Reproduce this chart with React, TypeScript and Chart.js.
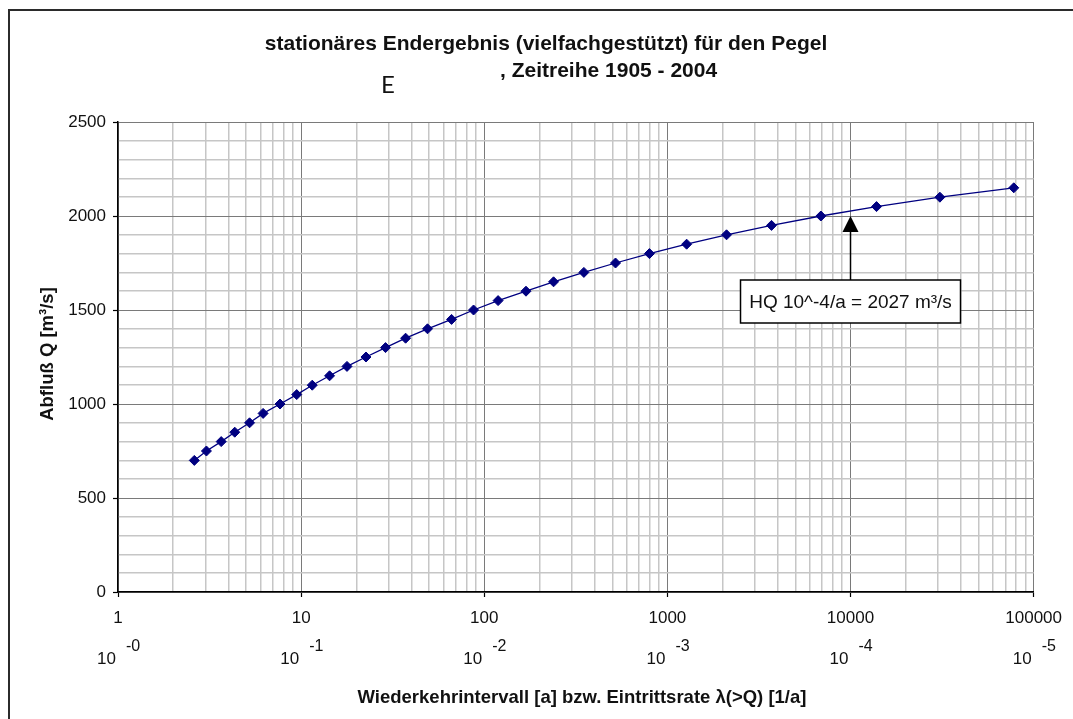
import React, { useEffect, useRef } from 'react';
import { Chart, registerables } from 'chart.js';

Chart.register(...registerables);

// ---- data ----
const returnPeriods = [2.61, 3.04, 3.66, 4.34, 5.23, 6.2, 7.67, 9.46, 11.5, 14.3, 17.8, 22.6, 28.9, 37.2, 49, 66.3, 87.4, 119, 169, 239, 350, 521, 798, 1274, 2104, 3704, 6890, 13870, 30770, 77900];
const discharges = [700, 750, 800, 850, 900, 950, 1000, 1050, 1100, 1150, 1200, 1250, 1300, 1350, 1400, 1450, 1500, 1550, 1600, 1650, 1700, 1750, 1800, 1850, 1900, 1950, 2000, 2050, 2100, 2150];
const decadeTicks = [1, 10, 100, 1000, 10000, 100000];
const decadeLabels = ['1', '10', '100', '1000', '10000', '100000'];
const rateBases = ['10', '10', '10', '10', '10', '10'];
const rateExponents = ['-0', '-1', '-2', '-3', '-4', '-5'];
const minorMultipliers = [2, 3, 4, 5, 6, 7, 8, 9];
const yLabelStep = 500;
const yGridStep = 100;
const titleLine1 = 'stationäres Endergebnis (vielfachgestützt) für den Pegel';
const titleLine2 = ', Zeitreihe 1905 - 2004';
const titleOverlay = 'E';
const xAxisTitle = 'Wiederkehrintervall [a] bzw. Eintrittsrate λ(>Q) [1/a]';
const yAxisTitle = 'Abfluß Q [m³/s]';
const annotationLabel = 'HQ 10^-4/a = 2027 m³/s';
const annotationPeriod = 10000;
const annotationTipQ = 2000;

const FONT = '"Liberation Sans", Arial, sans-serif';
const W = 1073;
const H = 719;

const isDecade = (v: number) => decadeTicks.some((d) => Math.abs(v - d) < d * 1e-6);

const decorPlugin = {
  id: 'decor',
  beforeDraw(chart: any) {
    const ctx = chart.ctx;
    ctx.save();
    ctx.fillStyle = '#ffffff';
    ctx.fillRect(0, 0, W, H);
    ctx.strokeStyle = '#2b2b2b';
    ctx.lineWidth = 2;
    ctx.beginPath();
    ctx.moveTo(9, H + 5);
    ctx.lineTo(9, 10);
    ctx.lineTo(W + 5, 10);
    ctx.stroke();
    ctx.restore();
  },
  afterDatasetsDraw(chart: any) {
    const ctx = chart.ctx;
    const xs = chart.scales.x;
    const ys = chart.scales.y;
    ctx.save();
    // title
    ctx.fillStyle = '#111';
    ctx.textBaseline = 'alphabetic';
    ctx.font = `bold 21px ${FONT}`;
    ctx.textAlign = 'center';
    ctx.fillText(titleLine1, 546, 50);
    ctx.textAlign = 'left';
    ctx.fillText(titleLine2, 500, 77);
    ctx.font = `24px Lato, "Noto Sans", sans-serif`;
    ctx.fillText(titleOverlay, 381, 93);

    // second row of x labels (rates)
    ctx.fillStyle = '#111';
    decadeTicks.forEach((d, i) => {
      const px = xs.getPixelForValue(d);
      ctx.font = `17px ${FONT}`;
      ctx.textAlign = 'right';
      ctx.fillText(rateBases[i], px - 2, 664);
      ctx.font = `16px ${FONT}`;
      ctx.textAlign = 'left';
      ctx.fillText(rateExponents[i], px + 8, 651);
    });

    // x axis title
    ctx.font = `bold 18.5px ${FONT}`;
    ctx.textAlign = 'center';
    ctx.fillText(xAxisTitle, 582, 703);

    // y axis title
    ctx.save();
    ctx.translate(53, 354);
    ctx.rotate(-Math.PI / 2);
    ctx.font = `bold 18.5px ${FONT}`;
    ctx.textAlign = 'center';
    ctx.fillText(yAxisTitle, 0, 0);
    ctx.restore();

    // annotation
    const ax = xs.getPixelForValue(annotationPeriod);
    const ay = ys.getPixelForValue(annotationTipQ);
    const headLen = 16;
    const headHalf = 8;
    const boxTop = ay + 64;
    const boxW = 220;
    const boxH = 43;
    ctx.strokeStyle = '#000';
    ctx.lineWidth = 1.5;
    ctx.beginPath();
    ctx.moveTo(ax, boxTop);
    ctx.lineTo(ax, ay + headLen);
    ctx.stroke();
    ctx.fillStyle = '#000';
    ctx.beginPath();
    ctx.moveTo(ax, ay);
    ctx.lineTo(ax - headHalf, ay + headLen);
    ctx.lineTo(ax + headHalf, ay + headLen);
    ctx.closePath();
    ctx.fill();
    ctx.fillStyle = '#fff';
    ctx.fillRect(ax - boxW / 2, boxTop, boxW, boxH);
    ctx.strokeRect(ax - boxW / 2, boxTop, boxW, boxH);
    ctx.fillStyle = '#111';
    ctx.font = `19px ${FONT}`;
    ctx.textAlign = 'center';
    ctx.textBaseline = 'middle';
    ctx.fillText(annotationLabel, ax, boxTop + boxH / 2 + 1);
    ctx.restore();
  },
};

export default function App() {
  const ref = useRef<HTMLCanvasElement | null>(null);
  useEffect(() => {
    if (!ref.current) return;
    const points = returnPeriods.map((t, i) => ({ x: t, y: discharges[i] }));
    const chart = new Chart(ref.current, {
      type: 'line',
      data: {
        datasets: [
          {
            data: points,
            borderColor: '#000080',
            borderWidth: 1.3,
            pointStyle: 'rectRot',
            pointRadius: 5,
            pointBackgroundColor: '#000080',
            pointBorderColor: '#000080',
            pointBorderWidth: 1,
            tension: 0,
            fill: false,
          },
        ],
      },
      options: {
        responsive: false,
        animation: false,
        devicePixelRatio: 1,
        layout: { padding: { top: 122, right: 37, left: 0, bottom: 0 } },
        plugins: { legend: { display: false }, tooltip: { enabled: false }, title: { display: false } },
        scales: {
          x: {
            type: 'logarithmic',
            min: decadeTicks[0],
            max: decadeTicks[decadeTicks.length - 1],
            afterBuildTicks: (scale: any) => {
              const ticks: any[] = [];
              decadeTicks.forEach((d, i) => {
                ticks.push({ value: d });
                if (i < decadeTicks.length - 1) minorMultipliers.forEach((m) => ticks.push({ value: d * m }));
              });
              scale.ticks = ticks;
            },
            afterFit: (scale: any) => {
              scale.height = H - 592;
            },
            ticks: {
              autoSkip: false,
              maxRotation: 0,
              padding: 11,
              color: '#111',
              font: { family: FONT, size: 17 },
              callback: (v: any) => {
                const idx = decadeTicks.findIndex((d) => Math.abs(Number(v) - d) < d * 1e-6);
                return idx >= 0 ? decadeLabels[idx] : '';
              },
            },
            grid: {
              color: (c: any) => (c.tick && isDecade(c.tick.value) ? '#7a7a7a' : '#c6c6c6'),
              lineWidth: (c: any) => (c.tick && isDecade(c.tick.value) ? 1 : 1.5),
              tickColor: (c: any) => (c.tick && isDecade(c.tick.value) ? '#000' : 'rgba(0,0,0,0)'),
              tickLength: 5,
              tickWidth: 1.2,
            },
            border: { color: '#000', width: 1.5 },
          },
          y: {
            type: 'linear',
            min: 0,
            max: 2500,
            afterFit: (scale: any) => {
              scale.width = 118;
            },
            ticks: {
              stepSize: yGridStep,
              autoSkip: false,
              padding: 7,
              color: '#111',
              font: { family: FONT, size: 17 },
              callback: (v: any) => (Number(v) % yLabelStep === 0 ? String(v) : ''),
            },
            grid: {
              color: (c: any) => (c.tick && c.tick.value % yLabelStep === 0 ? '#7a7a7a' : '#c6c6c6'),
              lineWidth: (c: any) => (c.tick && c.tick.value % yLabelStep === 0 ? 1 : 1.5),
              tickColor: (c: any) => (c.tick && c.tick.value % yLabelStep === 0 ? '#000' : 'rgba(0,0,0,0)'),
              tickLength: 5,
              tickWidth: 1.2,
            },
            border: { color: '#000', width: 1.5 },
          },
        },
      },
      plugins: [decorPlugin],
    });
    return () => chart.destroy();
  }, []);
  return (
    <div style={{ position: 'absolute', left: 0, top: 0, width: W, height: H, background: '#fff' }}>
      <canvas ref={ref} width={W} height={H} style={{ display: 'block', width: W, height: H }} />
    </div>
  );
}
